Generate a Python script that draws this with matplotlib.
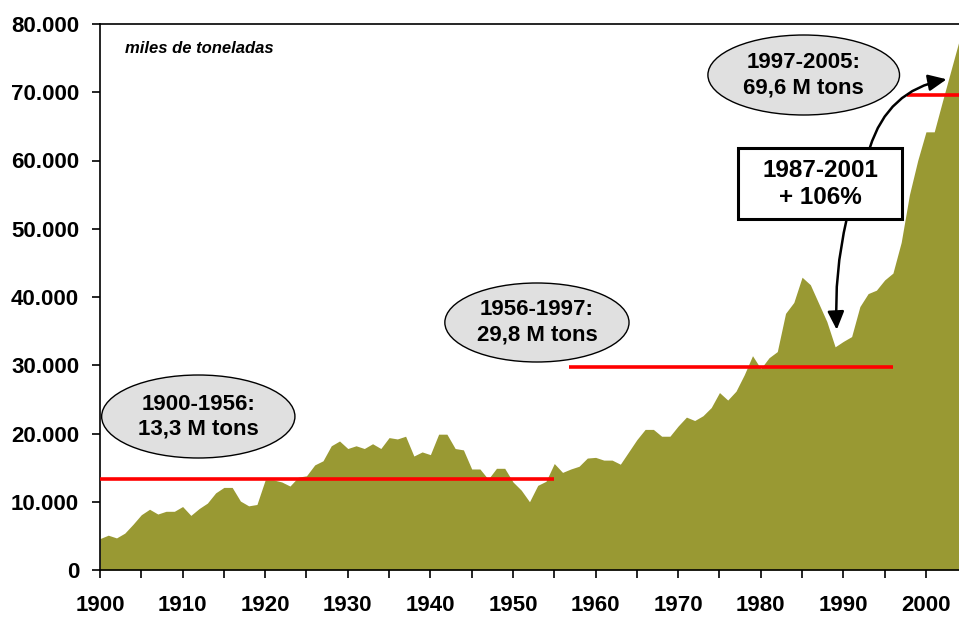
import matplotlib
matplotlib.use("Agg")
import matplotlib.pyplot as plt
from matplotlib.patches import Ellipse, Rectangle
from matplotlib.ticker import FuncFormatter, MultipleLocator

plt.rcParams['font.family'] = ['Liberation Sans', 'DejaVu Sans']
plt.rcParams['font.weight'] = 'bold'

# data: miles de toneladas, 1900-2004
years = list(range(1900, 2005))
values = [
    4600, 5100, 4700, 5400, 6700, 8100, 8900, 8200, 8600, 8600,          # 1900s
    9300, 8000, 9000, 9800, 11300, 12100, 12100, 10100, 9400, 9600,      # 1910s
    13200, 13200, 12900, 12300, 13600, 13800, 15400, 16000, 18200, 18900,  # 1920s
    17800, 18200, 17800, 18500, 17800, 19400, 19200, 19600, 16700, 17300,  # 1930s
    16900, 19900, 19900, 17800, 17600, 14800, 14800, 13300, 14900, 14900,  # 1940s
    12900, 11700, 10000, 12400, 13000, 15600, 14300, 14800, 15200, 16400,  # 1950s
    16500, 16100, 16100, 15500, 17300, 19100, 20600, 20600, 19600, 19600,  # 1960s
    21100, 22400, 21900, 22600, 23800, 26000, 24900, 26200, 28600, 31400,  # 1970s
    29500, 31100, 32000, 37600, 39200, 42900, 41800, 39100, 36400, 32700,  # 1980s
    33500, 34200, 38600, 40500, 41000, 42500, 43500, 48000, 55000, 60000,  # 1990s
    64200, 64200, 68700, 73100, 77500,                                     # 2000s
]

# period averages
period_labels = ["1900-1956:\n13,3 M tons", "1956-1997:\n29,8 M tons", "1997-2005:\n69,6 M tons"]
period_means = [13300, 29800, 69600]
period_spans = [(1900, 1955), (1956.8, 1996), (1997.7, 2005)]

fig = plt.figure(figsize=(9.59, 6.17), dpi=100)
ax = fig.add_axes([100 / 959, 47 / 617, 859 / 959, 546 / 617])

ax.fill_between(years, values, 0, color='#999933', linewidth=0, zorder=1)

for (x0, x1), m in zip(period_spans, period_means):
    ax.plot([x0, x1], [m, m], color='#ff0000', linewidth=2.6, solid_capstyle='butt', zorder=3)

ax.set_xlim(1900, 2004)
ax.set_ylim(0, 80000)

# axes styling
ax.spines['right'].set_visible(False)
for s in ['left', 'bottom', 'top']:
    ax.spines[s].set_linewidth(1.2)
ax.xaxis.set_major_locator(MultipleLocator(10))
ax.xaxis.set_minor_locator(MultipleLocator(5))
ax.yaxis.set_major_locator(MultipleLocator(10000))
ax.tick_params(axis='x', which='both', direction='out', length=6, width=1.2, pad=12, labelsize=16)
ax.tick_params(axis='y', direction='out', length=6, width=1.2, pad=9, labelsize=16)
ax.yaxis.set_major_formatter(FuncFormatter(lambda v, p: f"{int(v):,}".replace(',', '.')))
for lab in ax.get_xticklabels() + ax.get_yticklabels():
    lab.set_fontweight('bold')

ax.text(0.029, 0.956, "miles de toneladas", transform=ax.transAxes, fontsize=12,
        fontstyle='italic', fontweight='bold', ha='left', va='center')

# ellipse labels
ell_centers = [(1911.9, 22490), (1952.9, 36264), (1985.2, 72527)]
ell_sizes = [(23.4, 12160), (22.3, 11575), (23.2, 11720)]
for (cx, cy), (w, h), txt in zip(ell_centers, ell_sizes, period_labels):
    ax.add_patch(Ellipse((cx, cy), w, h, facecolor='#e0e0e0', edgecolor='black',
                         linewidth=1.0, zorder=4))
    ax.text(cx, cy, txt, ha='center', va='center', fontsize=16, fontweight='bold',
            linespacing=1.25, zorder=5)

# growth box
ax.add_patch(Rectangle((1977.2, 51400), 19.9, 10450, facecolor='white', edgecolor='black',
                       linewidth=2.2, zorder=4))
ax.text(1987.2, 56600, "1987-2001\n+ 106%", ha='center', va='center', fontsize=17.5,
        fontweight='bold', linespacing=1.2, zorder=5)

ax.annotate("", xy=(1989.2, 35200), xytext=(1990.4, 51400),
            arrowprops=dict(arrowstyle='-|>,head_length=1.1,head_width=0.5', color='black',
                            linewidth=1.8, connectionstyle='arc3,rad=0.07',
                            shrinkA=0, shrinkB=0), zorder=5)
ax.annotate("", xy=(2002.5, 71900), xytext=(1993.2, 61850),
            arrowprops=dict(arrowstyle='-|>,head_length=1.1,head_width=0.5', color='black',
                            linewidth=1.8, connectionstyle='arc3,rad=-0.3',
                            shrinkA=0, shrinkB=0), zorder=5)

fig.savefig("out.png", dpi=100)
